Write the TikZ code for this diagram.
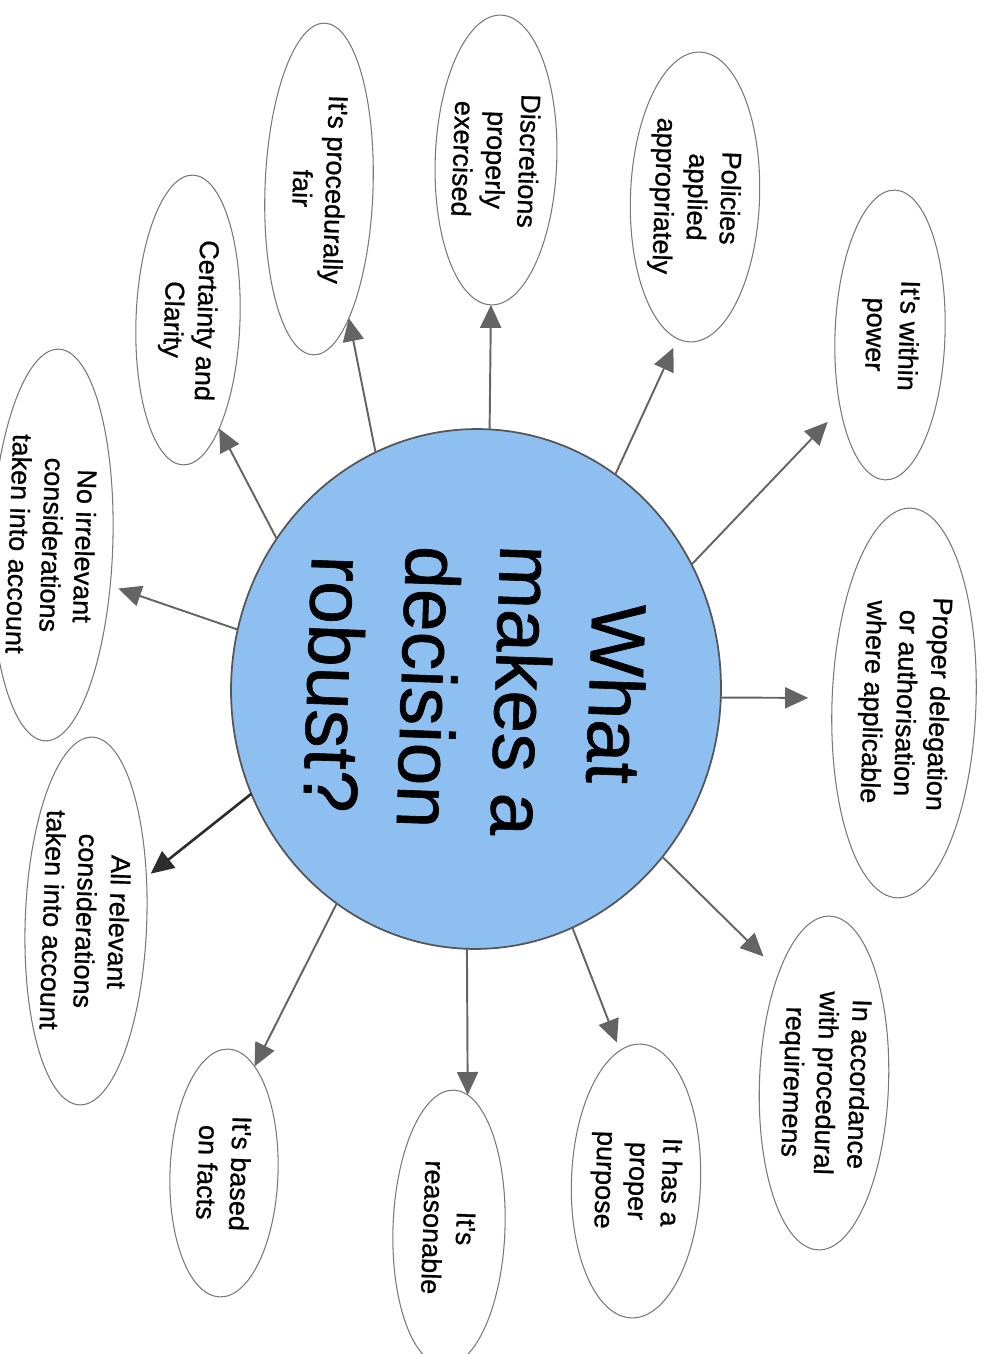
\documentclass[tikz,border=0pt]{standalone}
\usepackage{fontspec}
\setmainfont{Liberation Sans}
\newfontfamily\scanfont[FakeBold=0.8]{Liberation Sans}
\usetikzlibrary{shapes.geometric,arrows.meta}
\definecolor{hubblue}{RGB}{141,192,240}
\definecolor{rimgray}{RGB}{85,85,85}
\definecolor{linegray}{RGB}{120,120,120}
\definecolor{arrowgray}{RGB}{100,100,100}
\definecolor{arrowdark}{RGB}{45,45,45}

\begin{document}
\begin{tikzpicture}[x=0.02cm, y=-0.02cm,
		bubble/.style={ellipse, draw=linegray, line width=0.6pt, inner sep=0pt, outer sep=0pt,
			rotate=-92, align=center, font=\scanfont\fontsize{15.4}{18.8}\selectfont},
		spoke/.style={draw=arrowgray, line width=1.1pt, -{Triangle[length=0.46cm, width=0.42cm]}},
	]
	\useasboundingbox (0,0) rectangle (985,1354);

	% centre
	\node (hub) [ellipse, draw=rimgray, line width=1pt, fill=hubblue, inner sep=0pt, outer sep=0pt,
		minimum width=10.4cm, minimum height=9.8cm, rotate=-92, align=center,
		font=\scanfont\fontsize{43.8}{53.5}\selectfont] at (476,689) {What\\makes a\\decision\\robust?};

	% bubbles
	\node (power) [bubble, minimum width=5.8cm, minimum height=2.2cm] at (890,335) {It's within\\power};
	\node (delegation) [bubble, minimum width=7.8cm, minimum height=2.88cm] at (904,703) {Proper delegation\\or authorisation\\where applicable};
	\node (accordance) [bubble, minimum width=6.68cm, minimum height=2.16cm] at (824,1083) {In accordance\\with procedural\\requiremens};
	\node (purpose) [bubble, minimum width=5.48cm, minimum height=2.16cm] at (636,1181) {It has a\\proper\\purpose};
	\node (reasonable) [bubble, minimum width=5.52cm, minimum height=2.24cm] at (449,1228) {It's\\reasonable};
	\node (facts) [bubble, minimum width=4.96cm, minimum height=2.16cm] at (224,1173) {It's based\\on facts};
	\node (allrel) [bubble, minimum width=7.36cm, minimum height=2.24cm] at (86,921) {All relevant\\considerations\\taken into account};
	\node (noirrel) [bubble, minimum width=7.84cm, minimum height=2.08cm] at (52,545) {No irrelevant\\considerations\\taken into account};
	\node (certainty) [bubble, minimum width=5.8cm, minimum height=2.08cm] at (188,320) {Certainty and\\Clarity};
	\node (fair) [bubble, minimum width=6.64cm, minimum height=2.16cm] at (319,189) {It's procedurally\\fair};
	\node (discretion) [bubble, minimum width=5.8cm, minimum height=2.16cm] at (496,160) {Discretions\\properly\\exercised};
	\node (policies) [bubble, minimum width=5.8cm, minimum height=2.2cm] at (695,197) {Policies\\applied\\appropriately};

	% spokes
	\draw [spoke, shorten >=0.37cm] (hub.122.6) -- (power.328.6);
	\draw [spoke, shorten >=0.48cm] (hub.90.4) -- (delegation.268.4);
	\draw [spoke, shorten >=0.44cm] (hub.50.4) -- (accordance.204.5);
	\draw [spoke, shorten >=0.17cm] (hub.24) -- (purpose.189.8);
	\draw [spoke] (hub.0) -- (reasonable.174);
	\draw [spoke] (hub.329.8) -- (facts.166.3);
	\draw [spoke, draw=arrowdark, line width=1.5pt, shorten >=0.11cm] (hub.297) -- (allrel.128.7);
	\draw [spoke, shorten >=0.17cm] (hub.258.4) -- (noirrel.57.4);
	\draw [spoke] (hub.235) -- (certainty.18.5);
	\draw [spoke] (hub.205.4) -- (fair.15.3);
	\draw [spoke] (hub.179.8) -- (discretion.0.4);
	\draw [spoke, shorten >=0.2cm] (hub.149.1) -- (policies.355.1);
\end{tikzpicture}
\end{document}
